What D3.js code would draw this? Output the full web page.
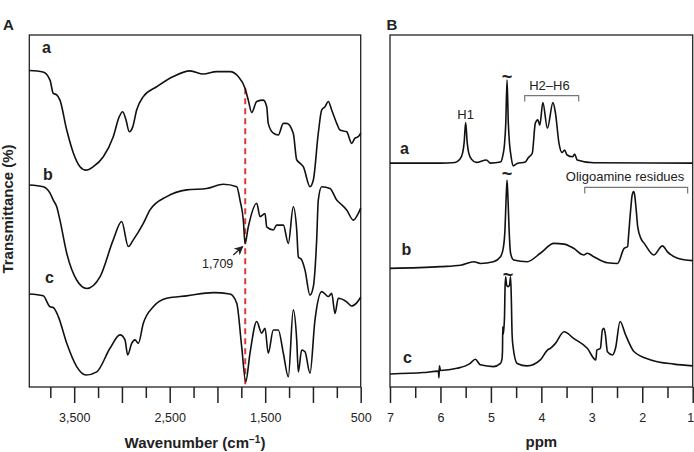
<!DOCTYPE html>
<html>
<head>
<meta charset="utf-8">
<script src="https://cdn.jsdelivr.net/npm/d3@7"></script>
<style>
  body { margin: 0; background: #fff; }
  text { font-family: "Liberation Sans", Arial, sans-serif; fill: #222; }
</style>
</head>
<body>
<script>
// IR spectra (wavenumber, transmittance offset %)
const irA = [[3970,89.9],[3827,89.5],[3753,87.2],[3719,83.4],[3683,83.0],[3649,81.5],[3578,73.0],[3509,66.5],[3439,62.6],[3376,61.6],[3300,62.6],[3195,65.4],[3091,71.1],[3028,76.8],[2992,78.2],[2958,75.9],[2923,72.5],[2887,73.9],[2846,78.7],[2776,82.5],[2636,85.3],[2462,88.2],[2287,89.8],[2148,88.9],[2008,89.6],[1869,89.6],[1782,88.2],[1711,84.9],[1677,81.5],[1641,78.0],[1589,81.1],[1520,81.5],[1484,79.6],[1468,74.9],[1415,72.1],[1363,71.6],[1310,74.9],[1275,74.9],[1206,72.1],[1170,64.5],[1136,63.6],[1101,62.6],[1031,56.9],[996,58.8],[944,72.1],[908,78.7],[874,79.6],[839,81.1],[804,78.7],[751,74.9],[717,73.0],[647,72.5],[594,69.2],[560,70.7],[525,71.1],[500,72.1]];
const irB = [[3970,57.4],[3824,56.9],[3753,55.1],[3719,53.1],[3683,51.2],[3649,47.4],[3578,38.0],[3474,30.4],[3369,28.0],[3230,31.3],[3091,41.8],[3003,47.0],[2933,39.9],[2881,41.8],[2776,46.5],[2706,50.3],[2531,54.1],[2322,56.0],[2113,56.4],[1939,57.6],[1798,56.9],[1764,53.1],[1729,47.4],[1711,40.8],[1677,45.5],[1589,52.2],[1554,48.4],[1502,49.3],[1484,45.5],[1415,44.6],[1380,46.0],[1310,46.0],[1258,40.8],[1206,51.2],[1170,44.6],[1153,37.0],[1118,36.1],[1083,33.2],[1031,26.1],[996,28.5],[961,41.8],[944,53.1],[908,56.9],[821,56.4],[751,53.1],[717,52.2],[647,50.3],[577,47.4],[525,49.3],[500,50.8]];
const irC = [[3970,26.4],[3824,25.9],[3753,22.8],[3719,22.6],[3666,20.0],[3578,12.4],[3474,5.8],[3376,3.4],[3264,4.3],[3125,11.0],[3020,14.8],[2968,13.4],[2940,9.1],[2898,12.4],[2863,13.4],[2829,12.4],[2776,18.1],[2672,22.8],[2531,25.2],[2322,25.9],[2043,26.8],[1869,26.4],[1798,23.8],[1746,11.4],[1704,1.5],[1659,9.6],[1589,18.6],[1537,15.3],[1502,16.7],[1468,9.6],[1415,16.2],[1363,16.2],[1310,9.6],[1258,2.9],[1206,21.9],[1170,13.4],[1153,4.3],[1118,10.5],[1083,10.0],[1031,3.9],[979,19.0],[908,27.1],[839,25.7],[804,26.6],[769,20.9],[735,25.2],[647,24.2],[594,23.0],[542,23.9],[500,25.5]];

// 1H NMR spectra (ppm, intensity offset)
const nmrA = [[7.0,63.6],[6.0,63.6],[5.71,63.8],[5.62,64.6],[5.56,66.5],[5.53,69.5],[5.50,75.1],[5.47,69.5],[5.44,66.5],[5.38,64.6],[5.29,63.8],[5.09,64.5],[5.01,63.6],[4.81,63.9],[4.76,66.0],[4.73,69.0],[4.705,75.0],[4.68,87.2],[4.655,75.0],[4.63,69.0],[4.60,65.5],[4.56,62.8],[4.48,63.5],[4.32,63.9],[4.26,65.1],[4.18,66.4],[4.12,74.9],[4.07,75.9],[4.03,74.4],[3.97,80.8],[3.88,73.5],[3.77,80.8],[3.72,77.8],[3.65,69.2],[3.59,66.6],[3.54,67.3],[3.49,65.9],[3.38,65.4],[3.34,66.2],[3.29,64.5],[2.96,63.7],[1.0,63.6]];
const nmrB = [[7.0,33.7],[6.0,34.2],[5.6,34.6],[5.34,35.6],[5.21,35.1],[4.95,35.6],[4.81,37.0],[4.75,39.9],[4.72,45.0],[4.70,53.0],[4.68,58.8],[4.66,53.0],[4.64,45.0],[4.61,38.0],[4.55,36.1],[4.28,35.6],[4.02,38.0],[3.75,40.8],[3.55,40.6],[3.36,39.4],[3.16,37.5],[3.09,38.0],[2.96,37.0],[2.69,35.3],[2.49,35.1],[2.36,39.4],[2.29,39.9],[2.27,43.2],[2.23,50.3],[2.20,54.5],[2.17,55.5],[2.15,54.5],[2.12,50.3],[2.09,45.5],[2.02,42.0],[1.96,40.8],[1.77,37.5],[1.60,40.1],[1.50,38.4],[1.30,36.6],[1.0,35.9]];
const nmrC = [[7.0,3.7],[6.34,4.1],[6.04,4.5],[6.03,2.6],[6.02,6.0],[6.0,4.7],[5.67,5.3],[5.41,6.7],[5.31,7.9],[5.21,6.3],[4.95,5.8],[4.81,6.7],[4.78,8.0],[4.77,10.5],[4.765,17.1],[4.755,15.0],[4.73,20.0],[4.72,28.0],[4.707,31.3],[4.69,29.0],[4.66,28.5],[4.63,29.0],[4.61,31.3],[4.595,25.0],[4.58,15.0],[4.56,11.4],[4.48,6.7],[4.28,6.0],[4.02,7.7],[3.88,10.5],[3.82,11.0],[3.72,12.4],[3.55,15.7],[3.36,13.8],[3.09,11.0],[2.92,7.7],[2.90,10.5],[2.83,11.0],[2.79,16.2],[2.76,16.7],[2.73,14.8],[2.69,10.0],[2.59,9.1],[2.53,11.0],[2.44,18.6],[2.33,14.8],[2.16,10.0],[1.83,7.7],[1.37,6.5],[1.0,6.0]];

const irMajor = [3500, 3000, 2500, 2000, 1500, 1000, 500];
const irMinor = [3750, 3250, 2750, 2250, 1750, 1250, 750];
const irLabels = [3500, 2500, 1500, 500];
const nmrMajor = [7, 6, 5, 4, 3, 2, 1];
const nmrMinor = [6.5, 5.5, 4.5, 3.5, 2.5, 1.5];

const seriesNames = ['a', 'b', 'c'];
const irLabelPos = [[3837, 95.0], [3827, 58.8], [3806, 29.5]];
const nmrLabelPos = [[6.80, 66.2], [6.77, 37.5], [6.74, 6.8]];
const tildes = [[4.68, 88.1], [4.68, 60.6], [4.66, 31.7]];
const markerWn = 1709;

const W = 694, H = 452;
const svg = d3.select('body').append('svg').attr('width', W).attr('height', H);

const y = d3.scaleLinear().domain([0, 100]).range([387, 35]);
const xA = d3.scaleLinear().domain([3970, 500]).range([29.3, 360.7]);
const xB = d3.scaleLinear().domain([7, 1]).range([390, 692.7]);

function frame(x) {
    let r = x.range();
    svg.append('rect')
        .attr('x', r[0]).attr('y', y.range()[1])
        .attr('width', r[1] - r[0]).attr('height', y.range()[0] - y.range()[1])
        .attr('fill', 'none').attr('stroke', '#222').attr('stroke-width', 1.3);
}

function axis(x, major, minor, fmt) {
    let g = svg.append('g').attr('transform', `translate(0,${y.range()[0]})`);
    g.append('g').call(d3.axisBottom(x).tickValues(minor).tickSize(11).tickFormat(''))
        .call(s => s.select('.domain').remove());
    g.append('g').call(d3.axisBottom(x).tickValues(major).tickSize(16).tickPadding(10).tickFormat(fmt))
        .call(s => s.select('.domain').remove());
    g.selectAll('line').attr('stroke', '#222').attr('stroke-width', 1.5);
    g.selectAll('text').style('font-size', '12.5px').attr('fill', '#222')
        .style('font-family', '"Liberation Sans", Arial, sans-serif');
    return g;
}

function spectra(x, sets, width) {
    let line = d3.line().x(d => x(d[0])).y(d => y(d[1])).curve(d3.curveMonotoneX);
    svg.append('g').selectAll('path').data(sets).enter().append('path')
        .attr('d', line)
        .attr('fill', 'none')
        .attr('stroke', '#111')
        .attr('stroke-width', width)
        .attr('stroke-linejoin', 'round');
}

function letters(x, pos) {
    svg.append('g').selectAll('text').data(pos).enter().append('text')
        .attr('x', d => x(d[0])).attr('y', d => y(d[1]))
        .style('font-size', '16px').style('font-weight', 'bold')
        .text((d, i) => seriesNames[i]);
}

// ---- panel A
frame(xA);
axis(xA, irMajor, irMinor, d => irLabels.includes(d) ? d3.format(',')(d) : '');
svg.append('line')
    .attr('x1', xA(markerWn)).attr('x2', xA(markerWn))
    .attr('y1', y(84.9)).attr('y2', y(0.4))
    .attr('stroke', '#dc3a33').attr('stroke-width', 2)
    .attr('stroke-dasharray', '6,4');
spectra(xA, [irA, irB, irC], 1.6);
letters(xA, irLabelPos);

svg.append('defs').append('marker')
    .attr('id', 'arr').attr('viewBox', '0 0 10 10')
    .attr('refX', 9).attr('refY', 5)
    .attr('markerWidth', 7).attr('markerHeight', 7)
    .attr('orient', 'auto')
    .append('path').attr('d', 'M0,0 L10,5 L0,10 L3,5 Z').attr('fill', '#222');
svg.append('line')
    .attr('x1', xA(1834)).attr('y1', y(37.5))
    .attr('x2', xA(1736)).attr('y2', y(39.9))
    .attr('stroke', '#222').attr('stroke-width', 1.3)
    .attr('marker-end', 'url(#arr)');
svg.append('text')
    .attr('x', xA(1834)).attr('y', y(33.8))
    .attr('text-anchor', 'end')
    .style('font-size', '12.5px')
    .text(d3.format(',')(markerWn));

let xt = svg.append('text')
    .attr('x', d3.mean(xA.range())).attr('y', 447.5)
    .attr('text-anchor', 'middle')
    .style('font-size', '15px').style('font-weight', 'bold');
xt.append('tspan').text('Wavenumber (cm');
xt.append('tspan').attr('dy', -5).style('font-size', '10px').text('−1');
xt.append('tspan').attr('dy', 5).text(')');

svg.append('text')
    .attr('transform', 'translate(13,209) rotate(-90)')
    .attr('text-anchor', 'middle')
    .style('font-size', '15px').style('font-weight', 'bold')
    .text('Transmittance (%)');

svg.append('text').attr('x', 3).attr('y', 30)
    .style('font-size', '15px').style('font-weight', 'bold').text('A');

// ---- panel B
frame(xB);
let axB = axis(xB, nmrMajor, nmrMinor, d3.format('d'));
// last label sits on the right edge of the picture
axB.selectAll('.tick text').filter(d => d === 1).attr('dx', -2.5);
spectra(xB, [nmrA, nmrB, nmrC], 1.6);
letters(xB, nmrLabelPos);

svg.append('g').selectAll('text').data(tildes).enter().append('text')
    .attr('x', d => xB(d[0])).attr('y', d => y(d[1]))
    .attr('text-anchor', 'middle')
    .attr('dominant-baseline', 'central')
    .style('font-size', '18px').style('font-weight', 'bold')
    .text('~');

function bracket(p0, p1, v, label, lp, lv) {
    let tick = 1.7;
    svg.append('path')
        .attr('d', `M${xB(p0)},${y(v - tick)}V${y(v)}H${xB(p1)}V${y(v - tick)}`)
        .attr('fill', 'none').attr('stroke', '#777').attr('stroke-width', 1.2);
    svg.append('text')
        .attr('x', xB(lp)).attr('y', y(lv))
        .attr('text-anchor', 'middle')
        .style('font-size', '13px')
        .text(label);
}
bracket(4.33, 3.26, 82.8, 'H2–H6', 3.84, 84.4);
bracket(3.14, 1.10, 56.7, 'Oligoamine residues', 2.34, 58.6);

svg.append('text')
    .attr('x', xB(5.5)).attr('y', y(76.1))
    .attr('text-anchor', 'middle')
    .style('font-size', '13px')
    .text('H1');

svg.append('text')
    .attr('x', d3.mean(xB.range())).attr('y', 447)
    .attr('text-anchor', 'middle')
    .style('font-size', '15px').style('font-weight', 'bold')
    .text('ppm');

svg.append('text').attr('x', 386.5).attr('y', 30)
    .style('font-size', '15px').style('font-weight', 'bold').text('B');
</script>
</body>
</html>
